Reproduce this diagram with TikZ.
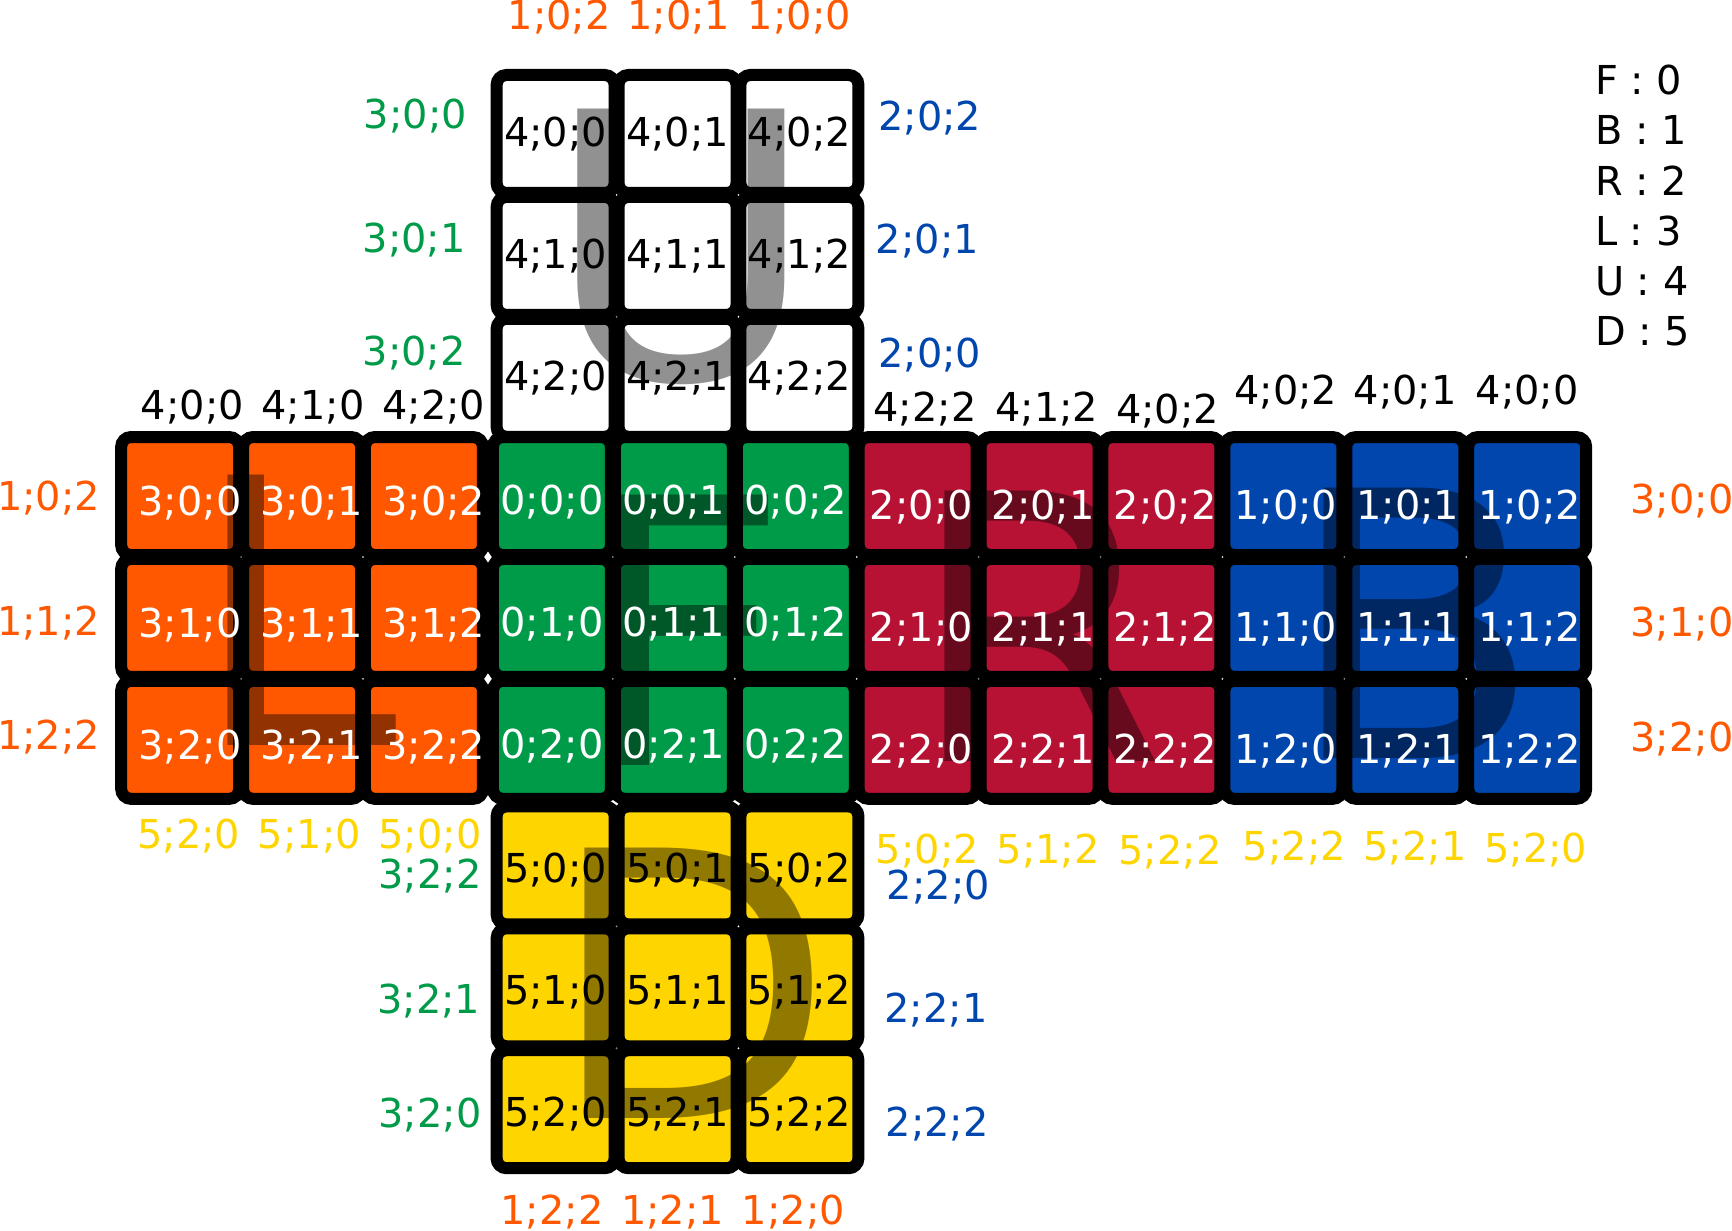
\documentclass[tikz,border=0pt]{standalone}
\usepackage{fontspec}
\setmainfont{DejaVu Sans}
\definecolor{cuorange}{HTML}{FF5800}
\definecolor{cugreen}{HTML}{009B48}
\definecolor{cured}{HTML}{B71234}
\definecolor{cublue}{HTML}{0046AD}
\definecolor{cuyellow}{HTML}{FFD500}
% face / origin x / origin y / sticker colour / text colour / text shift x / text shift y
\def\cubefaces{3/-0.05/2.97/cuorange/white/0.08/0.06,4/3.03/0/white/black/0/0,0/3/2.97/cugreen/white/0/0.05,2/6/2.97/cured/white/0.03/0.09,1/9/2.97/cublue/white/0.02/0.09,5/3.03/6/cuyellow/black/0/0.04}

\begin{document}
\begin{tikzpicture}[x=1cm,y=-1cm,
  sticker/.style={rectangle,draw=black,line width=2.8pt,rounded corners=2.3pt,minimum size=0.968cm,inner sep=0pt},
  lab/.style={inner sep=0pt,font=\fontsize{9.3}{11}\selectfont},
  facelet/.style={inner sep=0pt,opacity=0.43,font=\fontsize{86.6}{90}\selectfont}]
\useasboundingbox (-1.528,-1.099) rectangle (12.680,8.991);
% stickers of the six faces
\foreach \f/\x/\y/\clr/\tc/\dx/\dy in \cubefaces {
  \foreach \rr in {0,1,2} {
    \foreach \cc in {0,1,2} {
      \node[sticker,fill=\clr] (s\f\rr\cc) at (\x+\cc,\y+\rr) {};
    }
  }
}
% big face letters
\foreach \l/\x/\y in {U/4.06/0.93,L/0.89/3.91,F/4.08/4.07,R/6.98/4.04,B/10.08/4.01,D/4.14/6.97}
  \node[facelet] (big\l) at (\x,\y) {\l};
% sticker numbers
\foreach \f/\x/\y/\clr/\tc/\dx/\dy in \cubefaces {
  \foreach \rr in {0,1,2} {
    \foreach \cc in {0,1,2} {
      \node[lab,text=\tc] (t\f\rr\cc) at (\x+\cc+\dx,\y+\rr+\dy) {\f;\rr;\cc};
    }
  }
}
% neighbours around the net
\foreach \txt/\x/\y [count=\i] in {1;0;2/3.06/-0.96,1;0;1/4.04/-0.96,1;0;0/5.03/-0.96,1;0;2/-1.13/2.99,1;1;2/-1.13/4.01,1;2;2/-1.13/4.95,3;0;0/12.27/3.01,3;1;0/12.27/4.02,3;2;0/12.27/4.96,1;2;2/3.0/8.84,1;2;1/3.99/8.84,1;2;0/4.98/8.84}
  \node[lab,text=cuorange] (no\i) at (\x,\y) {\txt};
\foreach \txt/\x/\y [count=\i] in {3;0;0/1.88/-0.15,3;0;1/1.87/0.87,3;0;2/1.87/1.80,3;2;2/2.0/6.09,3;2;1/1.99/7.11,3;2;0/2.0/8.05}
  \node[lab,text=cugreen] (ng\i) at (\x,\y) {\txt};
\foreach \txt/\x/\y [count=\i] in {2;0;2/6.10/-0.13,2;0;1/6.08/0.88,2;0;0/6.10/1.81,2;2;0/6.17/6.18,2;2;1/6.15/7.19,2;2;2/6.16/8.12}
  \node[lab,text=cublue] (nb\i) at (\x,\y) {\txt};
\foreach \txt/\x/\y [count=\i] in {4;0;0/0.05/2.24,4;1;0/1.04/2.24,4;2;0/2.03/2.24,4;2;2/6.06/2.26,4;1;2/7.06/2.26,4;0;2/8.05/2.27,4;0;2/9.02/2.12,4;0;1/10.0/2.12,4;0;0/11.0/2.12}
  \node[lab,text=black] (nk\i) at (\x,\y) {\txt};
\foreach \txt/\x/\y [count=\i] in {5;2;0/0.02/5.76,5;1;0/1.01/5.76,5;0;0/2.0/5.76,5;0;2/6.08/5.88,5;1;2/7.07/5.88,5;2;2/8.07/5.89,5;2;2/9.09/5.86,5;2;1/10.08/5.86,5;2;0/11.07/5.87}
  \node[lab,text=cuyellow] (ny\i) at (\x,\y) {\txt};
% key
\foreach \l/\n [count=\i from 0] in {F/0,B/1,R/2,L/3,U/4,D/5}
  \node[lab,anchor=west] (key\l) at (11.55,-0.44+0.411*\i) {\l{} : \n};
\end{tikzpicture}
\end{document}
